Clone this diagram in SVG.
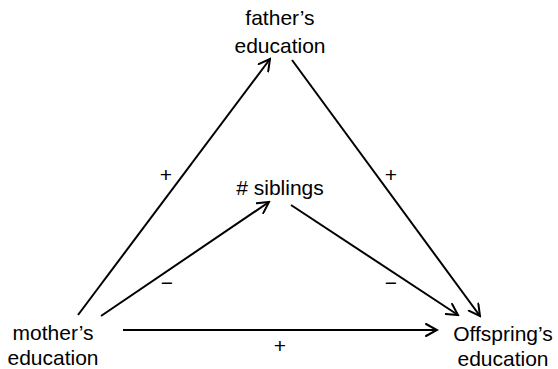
<svg xmlns="http://www.w3.org/2000/svg" width="558" height="369" viewBox="0 0 558 369">
<style>
text{font-family:"Liberation Sans",Arial,sans-serif;font-size:21px;fill:#000;text-anchor:middle}
.e{stroke:#000;stroke-width:2;fill:none;marker-end:url(#ah)}
</style>
<defs>
<marker id="ah" markerUnits="userSpaceOnUse" viewBox="0 0 14 14" refX="12" refY="7" markerWidth="14" markerHeight="14" orient="auto">
<path d="M1,1 L12,7 L1,13" fill="none" stroke="#000" stroke-width="2" stroke-linecap="round" stroke-linejoin="miter"/>
</marker>
</defs>
<rect width="558" height="369" fill="#fff"/>
<g id="connectors">
<line class="e" x1="78" y1="315" x2="270" y2="59"/>
<line class="e" x1="292" y1="60" x2="480" y2="316"/>
<line class="e" x1="101" y1="316" x2="269" y2="202"/>
<line class="e" x1="291" y1="205" x2="458" y2="315"/>
<line class="e" x1="123" y1="330" x2="437" y2="330"/>
<text x="166" y="182">+</text>
<text x="391" y="182">+</text>
<text x="167" y="290">−</text>
<text x="391" y="290">−</text>
<text x="280" y="353">+</text>
</g>
<g id="father"><text x="280" y="25">father’s</text><text x="280" y="53">education</text></g>
<g id="siblings"><text x="280" y="195"># siblings</text></g>
<g id="mother"><text x="53" y="340">mother’s</text><text x="53" y="365">education</text></g>
<g id="offspring"><text x="503" y="341">Offspring’s</text><text x="503" y="366">education</text></g>
</svg>
